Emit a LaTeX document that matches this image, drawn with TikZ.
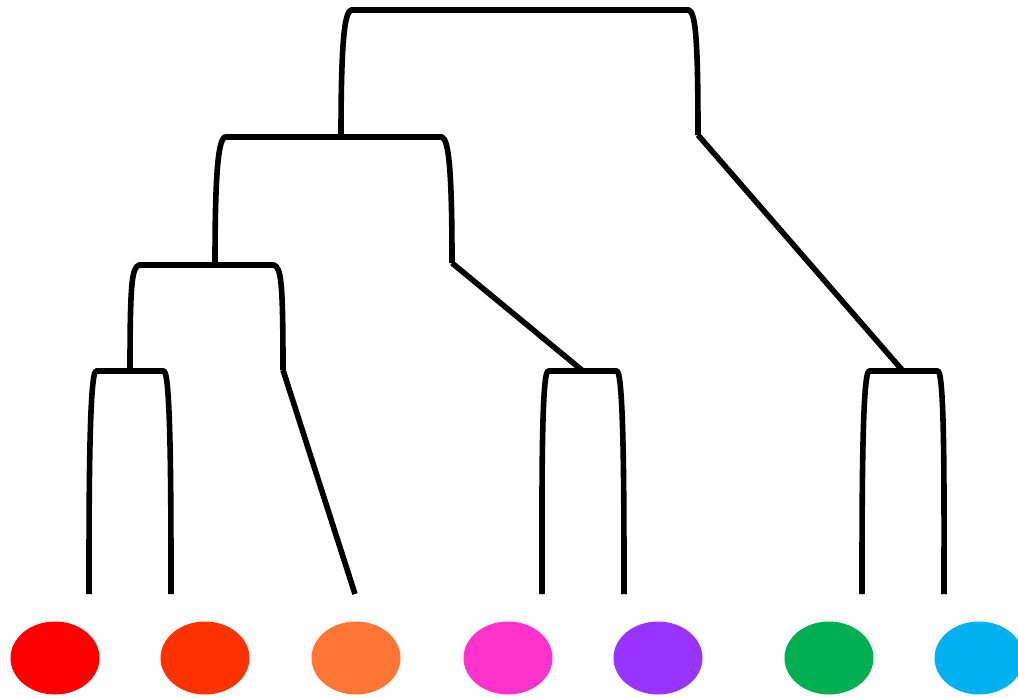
\documentclass[tikz,border=0pt]{standalone}
\usetikzlibrary{shapes.geometric}
\definecolor{lfA}{HTML}{FF0000}
\definecolor{lfB}{HTML}{FF3300}
\definecolor{lfC}{HTML}{FF7635}
\definecolor{lfD}{HTML}{FF33CC}
\definecolor{lfE}{HTML}{9933FF}
\definecolor{lfF}{HTML}{00B050}
\definecolor{lfG}{HTML}{00B0F0}
\newcommand\clade[4]{\draw (#1) .. controls +(0,-90) and +(-7,3) .. (#2) -- (#3) .. controls +(7,3) and +(0,-90) .. (#4);}
\begin{document}
\begin{tikzpicture}[x=1pt,y=-1pt,line width=5.6pt,line join=round,
  leaf/.style={ellipse,inner sep=0pt,minimum width=89pt,minimum height=73pt}]
\useasboundingbox (0,0) rectangle (1018,697);
\node[leaf,fill=lfA] (lfRed) at (55,658) {};
\node[leaf,fill=lfB] (lfScarlet) at (205,658) {};
\node[leaf,fill=lfC] (lfOrange) at (356,658) {};
\node[leaf,fill=lfD] (lfPink) at (508,658) {};
\node[leaf,fill=lfE] (lfPurple) at (658,658) {};
\node[leaf,fill=lfF] (lfGreen) at (829,658) {};
\node[leaf,fill=lfG] (lfCyan) at (979,658) {};
\coordinate (rootL) at (341,137);\coordinate (rootTL) at (351,10);\coordinate (rootTR) at (689,10);\coordinate (rootR) at (698,135);
\coordinate (twoL) at (215,265);\coordinate (twoTL) at (225,137);\coordinate (twoTR) at (442,137);\coordinate (twoR) at (452,263);
\coordinate (thrL) at (130,371);\coordinate (thrTL) at (139,265);\coordinate (thrTR) at (274,265);\coordinate (thrR) at (283,370);
\coordinate (pAL) at (89,594);\coordinate (pATL) at (96,371);\coordinate (pATR) at (164,371);\coordinate (pAR) at (171,594);
\coordinate (pBL) at (542,594);\coordinate (pBTL) at (548,371);\coordinate (pBTR) at (617,371);\coordinate (pBR) at (624,594);\coordinate (pBM) at (583,371);
\coordinate (pCL) at (862,594);\coordinate (pCTL) at (869,371);\coordinate (pCTR) at (938,371);\coordinate (pCR) at (944,594);\coordinate (pCM) at (903,371);
\coordinate (orTop) at (355,594);
\clade{rootL}{rootTL}{rootTR}{rootR}
\clade{twoL}{twoTL}{twoTR}{twoR}
\clade{thrL}{thrTL}{thrTR}{thrR}
\clade{pAL}{pATL}{pATR}{pAR}
\clade{pBL}{pBTL}{pBTR}{pBR}
\clade{pCL}{pCTL}{pCTR}{pCR}
\draw (twoR) -- (pBM);\draw (thrR) -- (orTop);\draw (rootR) -- (pCM);
\end{tikzpicture}
\end{document}
